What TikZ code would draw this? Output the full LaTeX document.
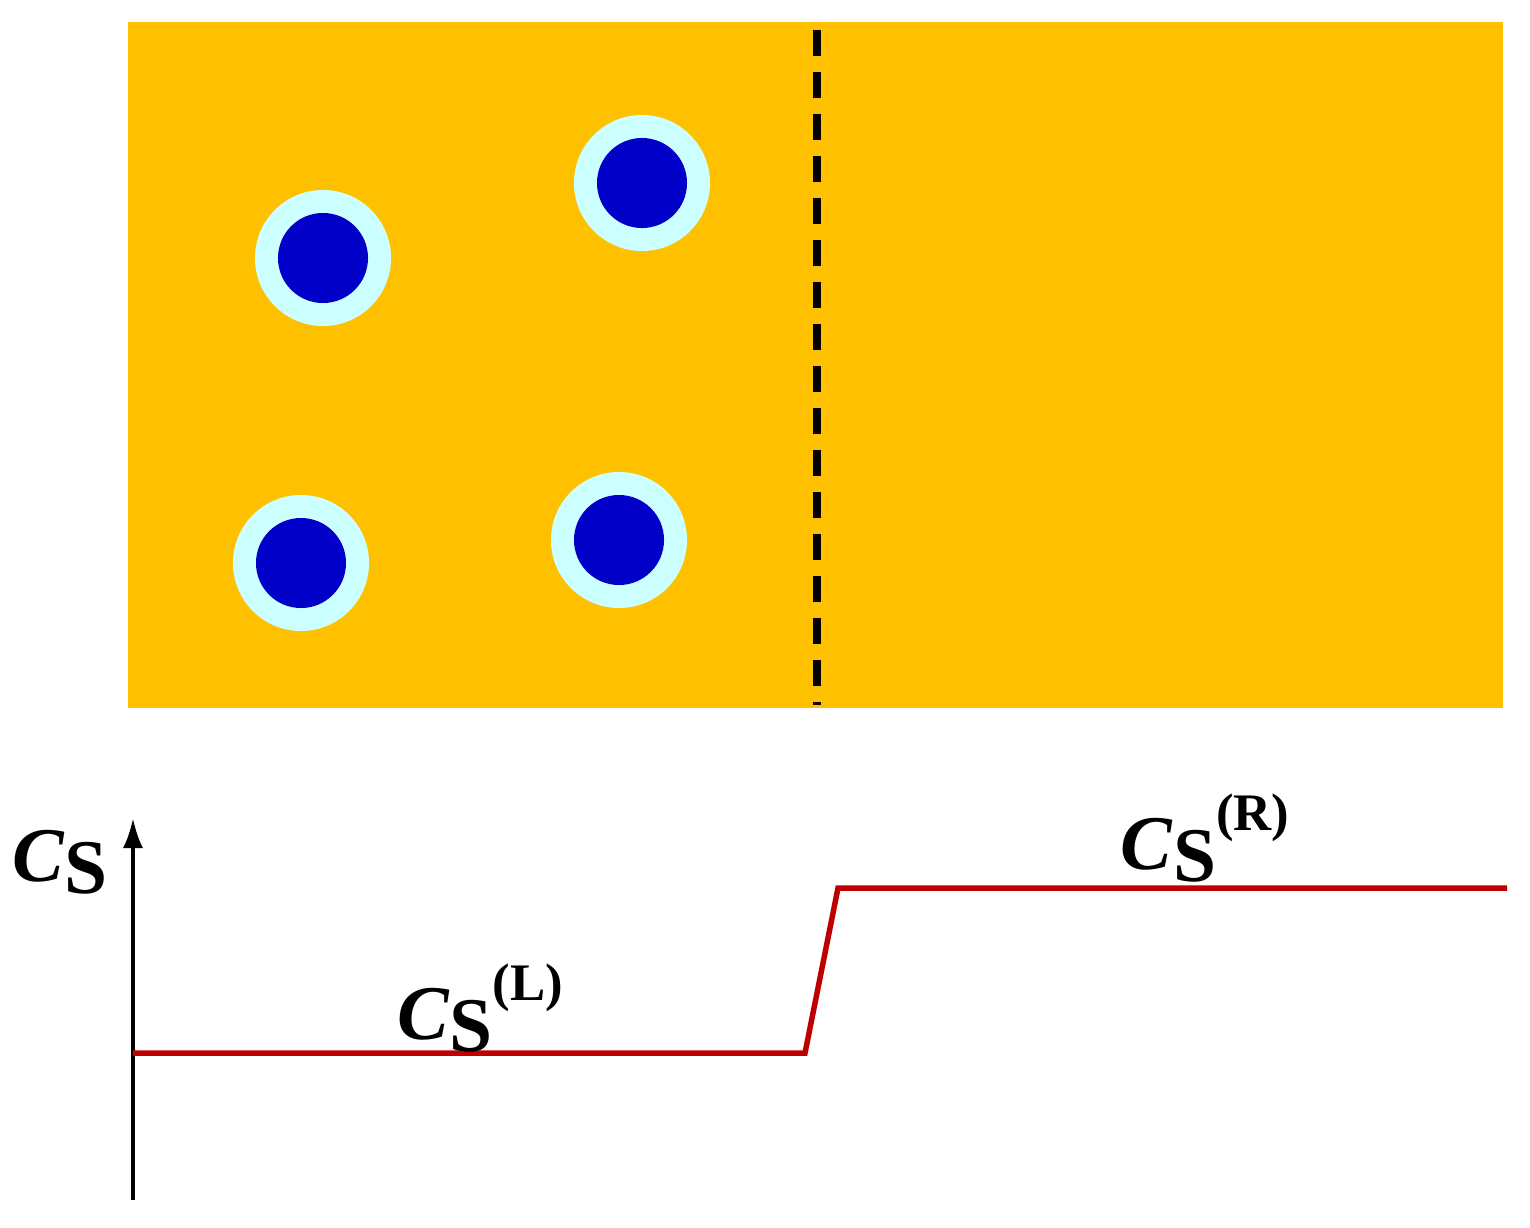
\documentclass[tikz,border=0pt]{standalone}
\usepackage{fontspec}
\setmainfont{Liberation Serif}
\usetikzlibrary{arrows.meta}
\begin{document}
\begin{tikzpicture}[x=0.01cm,y=-0.01cm,
 lab/.style={font=\fontsize{22}{24}\selectfont\bfseries, inner sep=0pt}]
\useasboundingbox (0,0) rectangle (1530,1227);
\definecolor{gold}{HTML}{FFC000}
\definecolor{rd}{HTML}{C00000}
\definecolor{dblue}{HTML}{0000C8}
\definecolor{lcyan}{HTML}{CCFFFF}
\fill[gold] (128,22) rectangle (1503,708);
\draw[line width=0.08cm, dash pattern=on 0.26cm off 0.16cm] (817,30) -- (817,705);
\foreach \x/\y in {323/258, 642/183, 301/563, 619/540}{
  \fill[lcyan] (\x,\y) circle (0.68cm);
  \fill[dblue] (\x,\y) circle (0.45cm);
}
\coordinate (ab) at (133,1200);
\coordinate (at) at (133,818);
\draw[line width=0.04cm, -{Latex[length=0.3cm,width=0.2cm]}] (ab) -- (at);
\coordinate (p0) at (133,1053);
\coordinate (p1) at (805,1053);
\coordinate (p2) at (838,888);
\coordinate (p3) at (1507,888);
\draw[rd, line width=0.055cm] (p0) -- (p1) -- (p2) -- (p3);
\node[lab] (cs) at (60,862) {\textit{C}\raisebox{-0.35ex}{S}};
\node[lab] (csl) at (480,1008) {\textit{C}\raisebox{-0.35ex}{S}\raisebox{1.1ex}{\fontsize{15}{16}\selectfont(L)}};
\node[lab] (csr) at (1205,838) {\textit{C}\raisebox{-0.35ex}{S}\raisebox{1.1ex}{\fontsize{15}{16}\selectfont(R)}};
\end{tikzpicture}
\end{document}
